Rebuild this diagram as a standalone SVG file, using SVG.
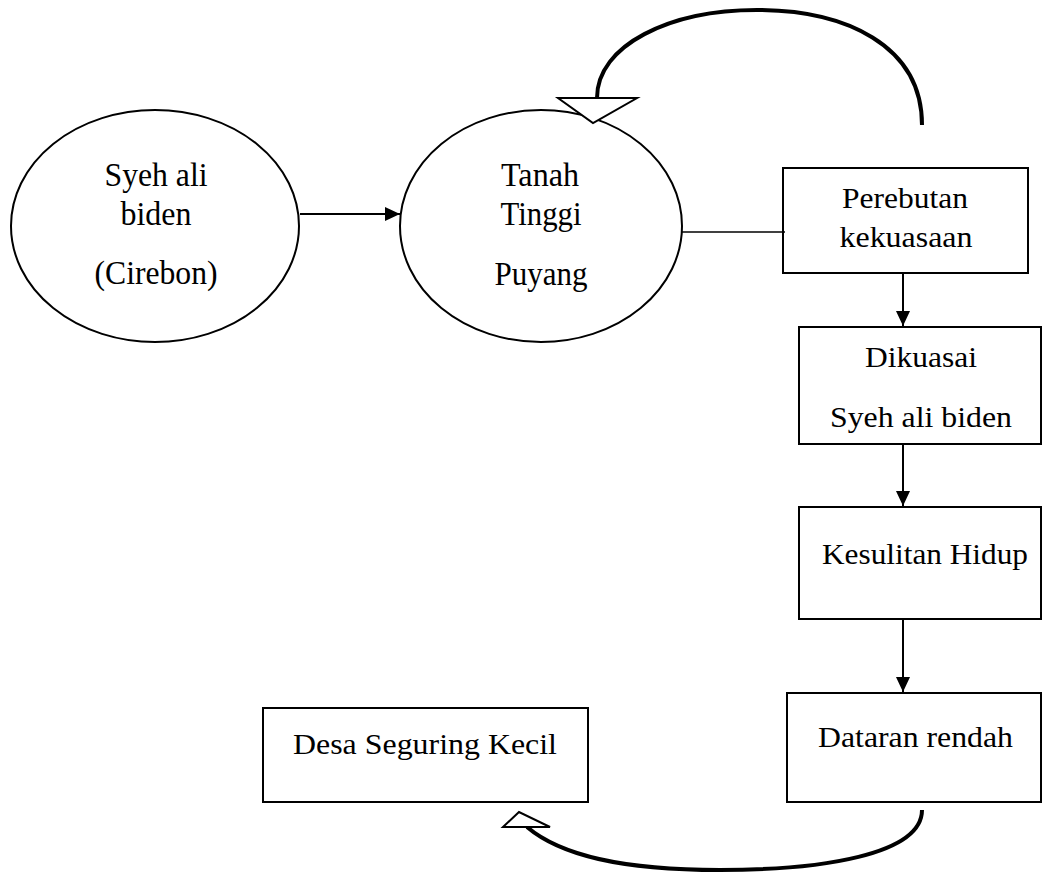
<svg xmlns="http://www.w3.org/2000/svg" width="1043" height="872" viewBox="0 0 1043 872">
<style>
.shape{fill:#fff;stroke:#000;stroke-width:2}
.t{font-size:29px;fill:#000;text-anchor:middle}
.te{font-size:33px;fill:#000;text-anchor:middle}
.ln{fill:none;stroke:#000;stroke-width:2}
.thin{fill:none;stroke:#000;stroke-width:1.5}
.curve{fill:none;stroke:#000;stroke-width:4}
.hollow{fill:#fff;stroke:#000;stroke-width:2;stroke-linejoin:miter}
</style>
<defs>
<marker id="ah" markerWidth="15" markerHeight="14" refX="15" refY="7" orient="auto" markerUnits="userSpaceOnUse">
<path d="M0,0 L15,7 L0,14 Z" fill="#000"/>
</marker>
</defs>
<rect width="1043" height="872" fill="#fff"/>
<g font-family="'Liberation Serif', 'Times New Roman', Times, serif">
<g id="n1">
<ellipse class="shape" cx="155" cy="226" rx="144" ry="116"/>
<text class="te" x="156" y="186" textLength="103" lengthAdjust="spacingAndGlyphs">Syeh ali</text>
<text class="te" x="156" y="225" textLength="71" lengthAdjust="spacingAndGlyphs">biden</text>
<text class="te" x="156" y="284" textLength="123" lengthAdjust="spacingAndGlyphs">(Cirebon)</text>
</g>
<g id="n2">
<ellipse class="shape" cx="541" cy="226" rx="141" ry="116"/>
<text class="te" x="540" y="186" textLength="78" lengthAdjust="spacingAndGlyphs">Tanah</text>
<text class="te" x="541" y="225" textLength="81" lengthAdjust="spacingAndGlyphs">Tinggi</text>
<text class="te" x="541" y="285" textLength="93" lengthAdjust="spacingAndGlyphs">Puyang</text>
</g>
<g id="n3">
<rect class="shape" x="783" y="168" width="245" height="105"/>
<text class="t" x="905" y="208" textLength="126" lengthAdjust="spacingAndGlyphs">Perebutan</text>
<text class="t" x="906" y="247" textLength="133" lengthAdjust="spacingAndGlyphs">kekuasaan</text>
</g>
<g id="n4">
<rect class="shape" x="799" y="327" width="242" height="117"/>
<text class="t" x="921" y="367" textLength="112" lengthAdjust="spacingAndGlyphs">Dikuasai</text>
<text class="t" x="921" y="427" textLength="182" lengthAdjust="spacingAndGlyphs">Syeh ali biden</text>
</g>
<g id="n5">
<rect class="shape" x="799" y="507" width="242" height="112"/>
<text class="t" x="925" y="564" textLength="206" lengthAdjust="spacingAndGlyphs">Kesulitan Hidup</text>
</g>
<g id="n6">
<rect class="shape" x="787" y="693" width="254" height="109"/>
<text class="t" x="915.5" y="747" textLength="195" lengthAdjust="spacingAndGlyphs">Dataran rendah</text>
</g>
<g id="n7">
<rect class="shape" x="263" y="708" width="325" height="94"/>
<text class="t" x="425" y="754" textLength="264" lengthAdjust="spacingAndGlyphs">Desa Seguring Kecil</text>
</g>
</g>
<g id="connectors">
<line class="ln" x1="300" y1="214" x2="400" y2="214" marker-end="url(#ah)"/>
<line class="thin" x1="682" y1="232" x2="785" y2="232"/>
<line class="ln" x1="903" y1="273" x2="903" y2="326" marker-end="url(#ah)"/>
<line class="ln" x1="903" y1="444" x2="903" y2="506" marker-end="url(#ah)"/>
<line class="ln" x1="903" y1="619" x2="903" y2="692" marker-end="url(#ah)"/>
<path class="curve" d="M922,125 C922,45 845,10 757,10 C670,10 597,45 597,98"/>
<polygon class="hollow" points="558,98 637,98 593,123"/>
<path class="curve" d="M922,810 C922,855 820,870 720,870 C620,870 560,855 527,827"/>
<polygon class="hollow" points="503,827 550,827 519,812"/>
</g>
</svg>
